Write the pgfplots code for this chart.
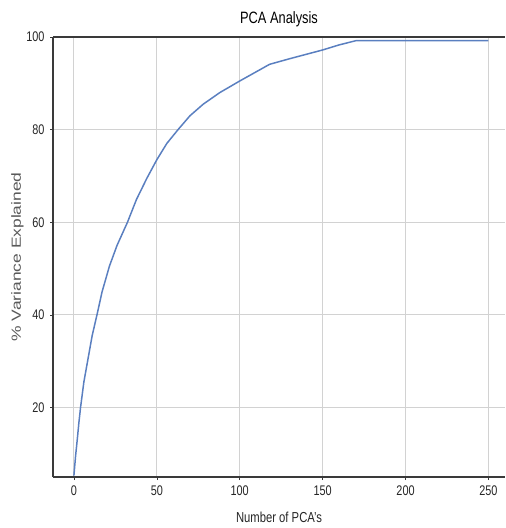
\documentclass[border=0pt]{standalone}
\usepackage{pgfplots}
\pgfplotsset{compat=1.18}
\usepackage{graphicx}
\usepackage{fontspec}
\setmainfont{Liberation Sans}[FakeStretch=0.78]
\newfontfamily\plainfont{Liberation Sans}
\definecolor{curve}{HTML}{5A7FC0}
\definecolor{spine}{HTML}{3A3A3A}
\definecolor{gridc}{HTML}{D2D2D2}
\begin{document}
\begin{tikzpicture}[x=1bp,y=1bp]
\begin{axis}[
  scale only axis,
  width=452bp, height=440bp,
  xmin=-12.6, xmax=260, ymin=5, ymax=100,
  xtick={0,50,100,150,200,250},
  ytick={20,40,60,80,100},
  axis lines*=left,
  axis line style={spine, line width=1.5pt, -},
  tick style={spine, line width=0.6pt},
  tick align=outside,
  major tick length=3bp,
  grid=major,
  major grid style={gridc, line width=1pt},
  /pgf/number format/assume math mode=true,
  ticklabel style={font=\fontsize{14}{15}\selectfont, text=black!85},
  yticklabel style={xshift=-2bp},
  xticklabel style={yshift=-2.5bp},
  title={PCA Analysis},
  title style={font=\fontsize{16.5}{18}\selectfont, at={(axis description cs:0.5,1.026)}, anchor=center},
  xlabel={Number of PCA's},
  xlabel style={font=\fontsize{14.5}{16}\selectfont, text=black!85, at={(axis description cs:0.5,-0.092)}, anchor=center},
  ylabel={\scalebox{1}[0.76]{\plainfont\fontsize{17.5}{19}\selectfont \% Variance Explained}},
  ylabel style={text=black!65, at={(axis description cs:-0.0785,0.5)}, anchor=center, rotate=0},
  clip=false,
]
\addplot[curve, line width=1.5pt] coordinates {
(0,5.3) (1,9.5) (2,13) (3,16.7) (4,20) (6,25.5) (8.5,30.5) (11,35.5) (13.9,40) (17,45)
(21.4,50.5) (26,55) (32.3,60) (37.7,64.9) (44,69.5) (50,73.5) (56,77)
(62.8,80) (70,83) (78,85.5) (88,88) (100,90.5) (110,92.5) (118,94.1)
(130,95.3) (150,97.2) (160,98.3) (170,99.2) (250,99.2)
};
\draw[spine, line width=1.5pt] (rel axis cs:0,1) -- (rel axis cs:1,1);
\path (axis description cs:-0.1173,-0.1159) (axis description cs:1,1.0841);
\end{axis}
\end{tikzpicture}
\end{document}
